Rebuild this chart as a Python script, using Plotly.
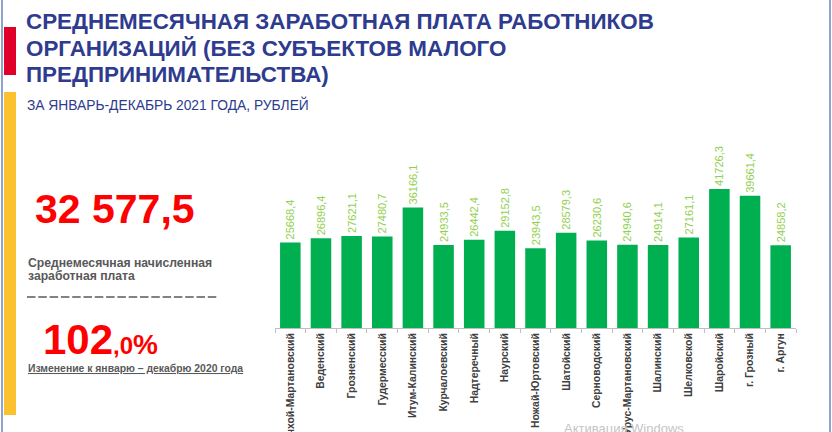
import plotly.graph_objects as go

categories = ["Ачхой-Мартановский", "Веденский", "Грозненский", "Гудермесский",
              "Итум-Калинский", "Курчалоевский", "Надтеречный", "Наурский",
              "Ножай-Юртовский", "Шатойский", "Серноводский", "Урус-Мартановский",
              "Шалинский", "Шелковской", "Шаройский", "г. Грозный", "г. Аргун"]
values = [25668.4, 26896.4, 27621.1, 27480.7, 36166.1, 24933.5, 26442.4, 29152.8,
          23943.5, 28579.3, 26230.6, 24940.6, 24914.1, 27161.1, 41726.3, 39661.4, 24858.2]
value_labels = [f"{v:.1f}".replace(".", ",") for v in values]

title_lines = ["СРЕДНЕМЕСЯЧНАЯ ЗАРАБОТНАЯ ПЛАТА РАБОТНИКОВ",
               "ОРГАНИЗАЦИЙ (БЕЗ СУБЪЕКТОВ МАЛОГО",
               "ПРЕДПРИНИМАТЕЛЬСТВА)"]
subtitle = "ЗА ЯНВАРЬ-ДЕКАБРЬ 2021 ГОДА, РУБЛЕЙ"
big_value = "32 577,5"
big_value_caption = ["Среднемесячная начисленная", "заработная плата"]
change_main, change_dec, change_pct = "102", ",0", "%"
change_caption = "Изменение к январю – декабрю 2020 года"

W, H = 832, 432
L, R, T, B = 275, 36, 130, 104
PW, PH = W - L - R, H - T - B
FONT = "Liberation Sans, Arial, sans-serif"


def px(x):
    return (x - L) / PW


def py(y):
    return (H - B - y) / PH


fig = go.Figure(go.Bar(
    x=categories, y=values, text=value_labels,
    textposition="outside", textangle=-90, cliponaxis=False,
    constraintext="none",
    outsidetextfont=dict(family=FONT, size=11, color="#92D050"),
    marker=dict(color="#00B050", line=dict(width=0)),
    hoverinfo="x+y",
))

fig.update_layout(
    width=W, height=H,
    margin=dict(l=L, r=R, t=T, b=B, autoexpand=False),
    paper_bgcolor="white", plot_bgcolor="white",
    bargap=0.33, showlegend=False,
    font=dict(family=FONT),
)
fig.update_xaxes(
    showline=True, linecolor="#BFBFBF", linewidth=1,
    ticks="outside", tickson="boundaries", ticklen=4, tickcolor="#BFBFBF",
    tickangle=-90, tickfont=dict(family=FONT, size=10.4, color="#404040", weight="bold"),
    showgrid=False, automargin=False,
)
fig.update_yaxes(range=[0, PH * 300], visible=False, showgrid=False)

shapes = [
    dict(x0=px(1), x1=px(3), y0=py(432), y1=py(0), color="#8EA4CC"),
    dict(x0=px(829), x1=px(831), y0=py(432), y1=py(0), color="#8EA4CC"),
    dict(x0=px(4), x1=px(16), y0=py(75), y1=py(27), color="#E1002A"),
    dict(x0=px(4), x1=px(16), y0=py(415), y1=py(92), color="#FBC12E"),
]
for s in shapes:
    fig.add_shape(type="rect", xref="paper", yref="paper",
                  x0=s["x0"], x1=s["x1"], y0=s["y0"], y1=s["y1"],
                  fillcolor=s["color"], line=dict(width=0), layer="below")

fig.add_shape(type="line", xref="paper", yref="paper",
              x0=px(27), x1=px(218), y0=py(297), y1=py(297),
              line=dict(color="#595959", width=1.3, dash="8.5px,2.8px"))


def ann(text, x, y, size, color, bold=False, xanchor="left", **font_extra):
    fig.add_annotation(
        text=text, x=px(x), y=py(y), xref="paper", yref="paper",
        xanchor=xanchor, yanchor="middle", showarrow=False,
        font=dict(family=FONT, size=size, color=color,
                  weight="bold" if bold else "normal", **font_extra),
    )


title_y = [21.5, 48.5, 74]
for line, y in zip(title_lines, title_y):
    ann(line, 24, y, 22.4, "#2E3B8E", bold=True)
ann(subtitle, 25, 104.5, 13.8, "#2E3B8E")

ann(big_value, 33, 209, 41, "#FF0000", bold=True)
ann(big_value_caption[0], 26, 263, 12.2, "#595959", bold=True)
ann(big_value_caption[1], 26, 276, 12.2, "#595959", bold=True)
ann(f"{change_main}<span style='font-size:24px'>{change_dec}</span>"
    f"<span style='font-size:28px'>{change_pct}</span>",
    41, 339, 42, "#FF0000", bold=True)
ann(change_caption, 26, 368, 10.4, "#595959", bold=True, lineposition="under")
ann("Активация Windows", 562, 428, 13, "#C4C4C4")

fig.write_html("out.html", config={"displayModeBar": False},
               post_script="document.body.style.margin='0';")
